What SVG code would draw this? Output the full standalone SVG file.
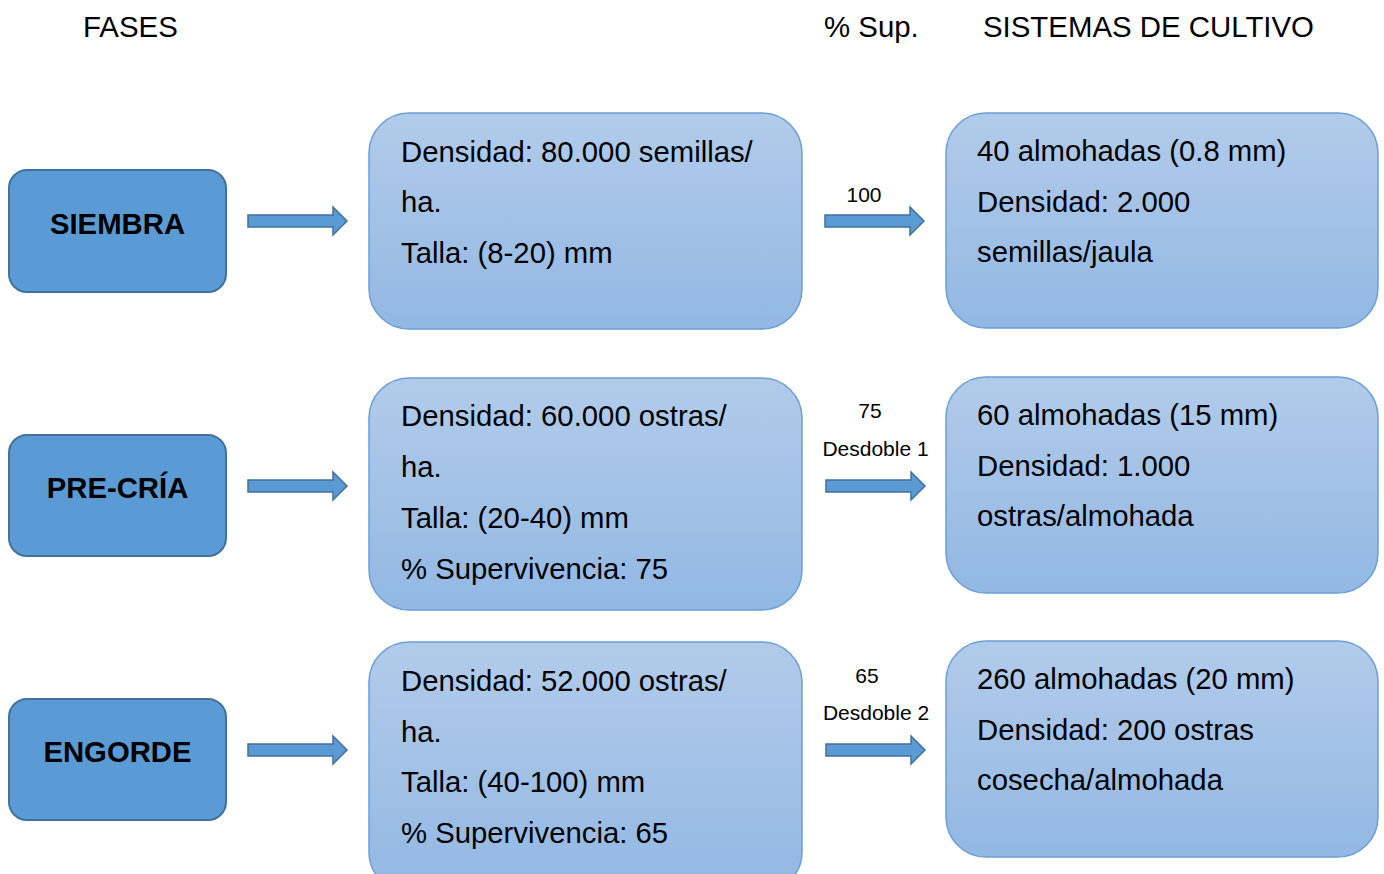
<svg xmlns="http://www.w3.org/2000/svg" width="1384" height="874" viewBox="0 0 1384 874">
<defs>
<linearGradient id="g" x1="0" y1="0" x2="0" y2="1">
<stop offset="0" stop-color="#b2cbea"/>
<stop offset="1" stop-color="#92b8e3"/>
</linearGradient>
<polygon id="arr" points="0,-6 85,-6 85,-14 99,0 85,14 85,6 0,6"/>
</defs>
<style>
text{font-family:"Liberation Sans",Arial,sans-serif;fill:#000}
.hd{font-size:29.4px}
.ph rect{fill:#5b9bd5;stroke:#41719c;stroke-width:2}
.ph text{font-size:29.3px;font-weight:bold;text-anchor:middle}
.bx rect{fill:url(#g);stroke:#6a9fd8;stroke-width:1.5}
.bx text{font-size:29.3px}
.lb{font-size:21px;text-anchor:middle}
.cn use{fill:#5b9bd5;stroke:#41719c;stroke-width:1.5}
</style>
<rect width="1384" height="874" fill="#fff"/>
<g id="headers">
<text class="hd" x="83" y="37">FASES</text>
<text class="hd" x="824" y="37">% Sup.</text>
<text class="hd" x="983" y="37">SISTEMAS DE CULTIVO</text>
</g>
<g id="siembra" class="ph"><rect x="9" y="170" width="217" height="122" rx="18"/><text x="117.5" y="234">SIEMBRA</text></g>
<g id="precria" class="ph"><rect x="9" y="435" width="217" height="121" rx="18"/><text x="117.5" y="498">PRE-CRÍA</text></g>
<g id="engorde" class="ph"><rect x="9" y="699" width="217" height="121" rx="18"/><text x="117.5" y="762">ENGORDE</text></g>
<g id="m1" class="bx"><rect x="369" y="113" width="433" height="216" rx="40"/>
<text x="401" y="162">Densidad: 80.000 semillas/</text><text x="401" y="212">ha.</text><text x="401" y="263">Talla: (8-20) mm</text></g>
<g id="m2" class="bx"><rect x="369" y="378" width="433" height="232" rx="40"/>
<text x="401" y="426">Densidad: 60.000 ostras/</text><text x="401" y="477">ha.</text><text x="401" y="528">Talla: (20-40) mm</text><text x="401" y="579">% Supervivencia: 75</text></g>
<g id="m3" class="bx"><rect x="369" y="642" width="433" height="250" rx="40"/>
<text x="401" y="691">Densidad: 52.000 ostras/</text><text x="401" y="742">ha.</text><text x="401" y="792">Talla: (40-100) mm</text><text x="401" y="843">% Supervivencia: 65</text></g>
<g id="r1" class="bx"><rect x="946" y="113" width="432" height="215" rx="40"/>
<text x="977" y="161">40 almohadas (0.8 mm)</text><text x="977" y="212">Densidad: 2.000</text><text x="977" y="262">semillas/jaula</text></g>
<g id="r2" class="bx"><rect x="946" y="377" width="432" height="216" rx="40"/>
<text x="977" y="425">60 almohadas (15 mm)</text><text x="977" y="476">Densidad: 1.000</text><text x="977" y="526">ostras/almohada</text></g>
<g id="r3" class="bx"><rect x="946" y="641" width="432" height="216" rx="40"/>
<text x="977" y="689">260 almohadas (20 mm)</text><text x="977" y="740">Densidad: 200 ostras</text><text x="977" y="790">cosecha/almohada</text></g>
<g id="connectors" class="cn">
<use href="#arr" x="248" y="221"/>
<use href="#arr" x="248" y="486"/>
<use href="#arr" x="248" y="750"/>
<use href="#arr" x="825" y="221"/>
<use href="#arr" x="826" y="486"/>
<use href="#arr" x="826" y="750"/>
</g>
<g id="labels">
<text class="lb" x="864" y="202">100</text>
<text class="lb" x="870" y="418">75</text>
<text class="lb" x="875.5" y="456">Desdoble 1</text>
<text class="lb" x="867" y="683">65</text>
<text class="lb" x="876" y="720">Desdoble 2</text>
</g>
</svg>
